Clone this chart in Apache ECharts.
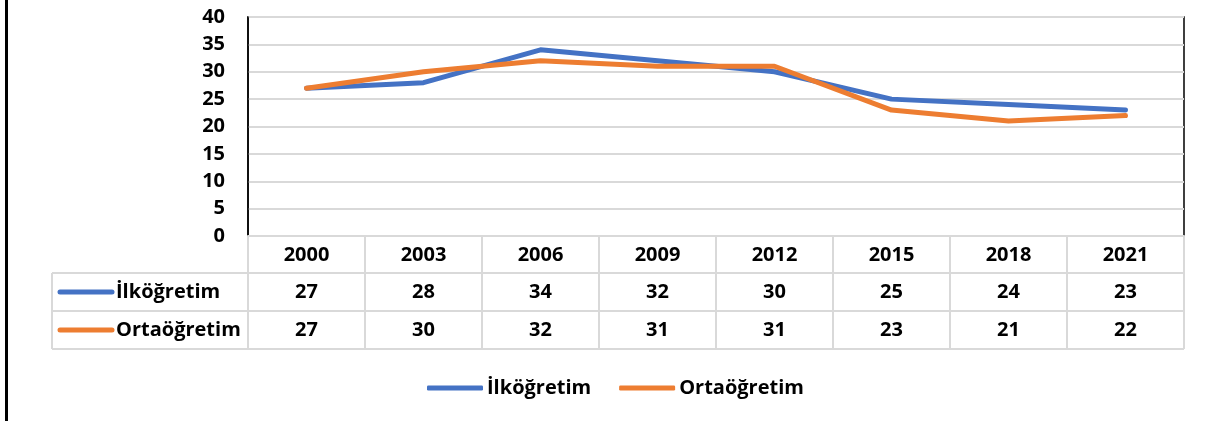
<!DOCTYPE html>
<html>
<head>
<meta charset="utf-8">
<script src="https://cdn.jsdelivr.net/npm/echarts@6/dist/echarts.min.js"></script>
<style>
  html, body { margin: 0; padding: 0; background: #fff; }
  #chart { width: 1208px; height: 421px; }
</style>
</head>
<body>
<div id="chart"></div>
<script>
const years = ["2000", "2003", "2006", "2009", "2012", "2015", "2018", "2021"];
const seriesNames = ["İlköğretim", "Ortaöğretim"];
const ilkogretim = [27, 28, 34, 32, 30, 25, 24, 23];
const ortaogretim = [27, 30, 32, 31, 31, 23, 21, 22];
const yTicks = { min: 0, max: 40, interval: 5 };

const colors = ["#4472C4", "#ED7D31"];
const FONT = "'Open Sans'";
const FSIZE = 20;
const gridColor = "#d9d9d9";

const chart = echarts.init(document.getElementById("chart"));

const lineSeries = [ilkogretim, ortaogretim].map((vals, i) => ({
  name: seriesNames[i],
  type: "line",
  data: vals,
  symbol: "none",
  color: colors[i],
  lineStyle: { width: 5, cap: "round", join: "round" },
  z: 3 + i
}));

chart.setOption({
  animation: false,
  textStyle: { fontFamily: FONT },
  grid: {
    left: 248, right: 24, top: 17, bottom: 185,
    show: true, borderColor: "#000", borderWidth: 1.5
  },
  legend: {
    data: seriesNames,
    left: 422,
    top: 373,
    icon: "roundRect",
    itemWidth: 56,
    itemHeight: 5,
    itemGap: 28,
    textStyle: { fontFamily: FONT, fontWeight: "bold", fontSize: FSIZE, color: "#000", padding: [0, 0, 0, -1] }
  },
  xAxis: {
    type: "category",
    data: years,
    boundaryGap: true,
    axisLine: { lineStyle: { color: gridColor, width: 2 } },
    axisTick: { show: true, interval: 0, length: 113, lineStyle: { color: gridColor, width: 2 } },
    axisLabel: {
      interval: 0, margin: 19, verticalAlign: "middle",
      fontFamily: FONT, fontWeight: "bold", fontSize: FSIZE, color: "#000"
    }
  },
  yAxis: {
    type: "value",
    min: yTicks.min, max: yTicks.max, interval: yTicks.interval,
    axisLine: { show: true, lineStyle: { color: "#000", width: 1.5 } },
    axisTick: { show: false },
    splitLine: { lineStyle: { color: gridColor, width: 2 } },
    axisLabel: { margin: 23, fontFamily: FONT, fontWeight: "bold", fontSize: FSIZE, color: "#000" }
  },
  series: lineSeries
});

// data table under the axis, built from the same arrays
function drawTable() {
  const rowVals = [ilkogretim, ortaogretim];
  const tableLeft = 52, tableRight = 1184;
  const rowTop = [273, 311];
  const rowH = 38;
  const els = [];
  const font = "bold " + FSIZE + "px " + FONT;

  // left border of the page
  els.push({ type: "line", shape: { x1: 6.5, y1: 0, x2: 6.5, y2: 421 }, style: { stroke: "#000", lineWidth: 3 } });

  // horizontal rules
  [273, 311, 349].forEach(y => {
    els.push({ type: "line", shape: { x1: tableLeft, y1: y, x2: tableRight, y2: y }, style: { stroke: gridColor, lineWidth: 2 } });
  });
  els.push({ type: "line", shape: { x1: tableLeft, y1: 273, x2: tableLeft, y2: 349 }, style: { stroke: gridColor, lineWidth: 2 } });

  rowVals.forEach((vals, i) => {
    const cy = rowTop[i] + rowH / 2;
    // key line + series name
    els.push({ type: "line", shape: { x1: 60, y1: cy, x2: 112, y2: cy },
      style: { stroke: colors[i], lineWidth: 5, lineCap: "round" } });
    els.push({ type: "text", x: 116, y: cy,
      style: { text: seriesNames[i], fill: "#000", font: font, textAlign: "left", textVerticalAlign: "middle" } });
    vals.forEach((v, j) => {
      const x = chart.convertToPixel({ xAxisIndex: 0 }, years[j]);
      els.push({ type: "text", x: x, y: cy,
        style: { text: String(v), fill: "#000", font: font, textAlign: "center", textVerticalAlign: "middle" } });
    });
  });

  chart.setOption({ graphic: { elements: els } });
}
drawTable();

window.addEventListener("resize", () => chart.resize());
</script>
</body>
</html>
